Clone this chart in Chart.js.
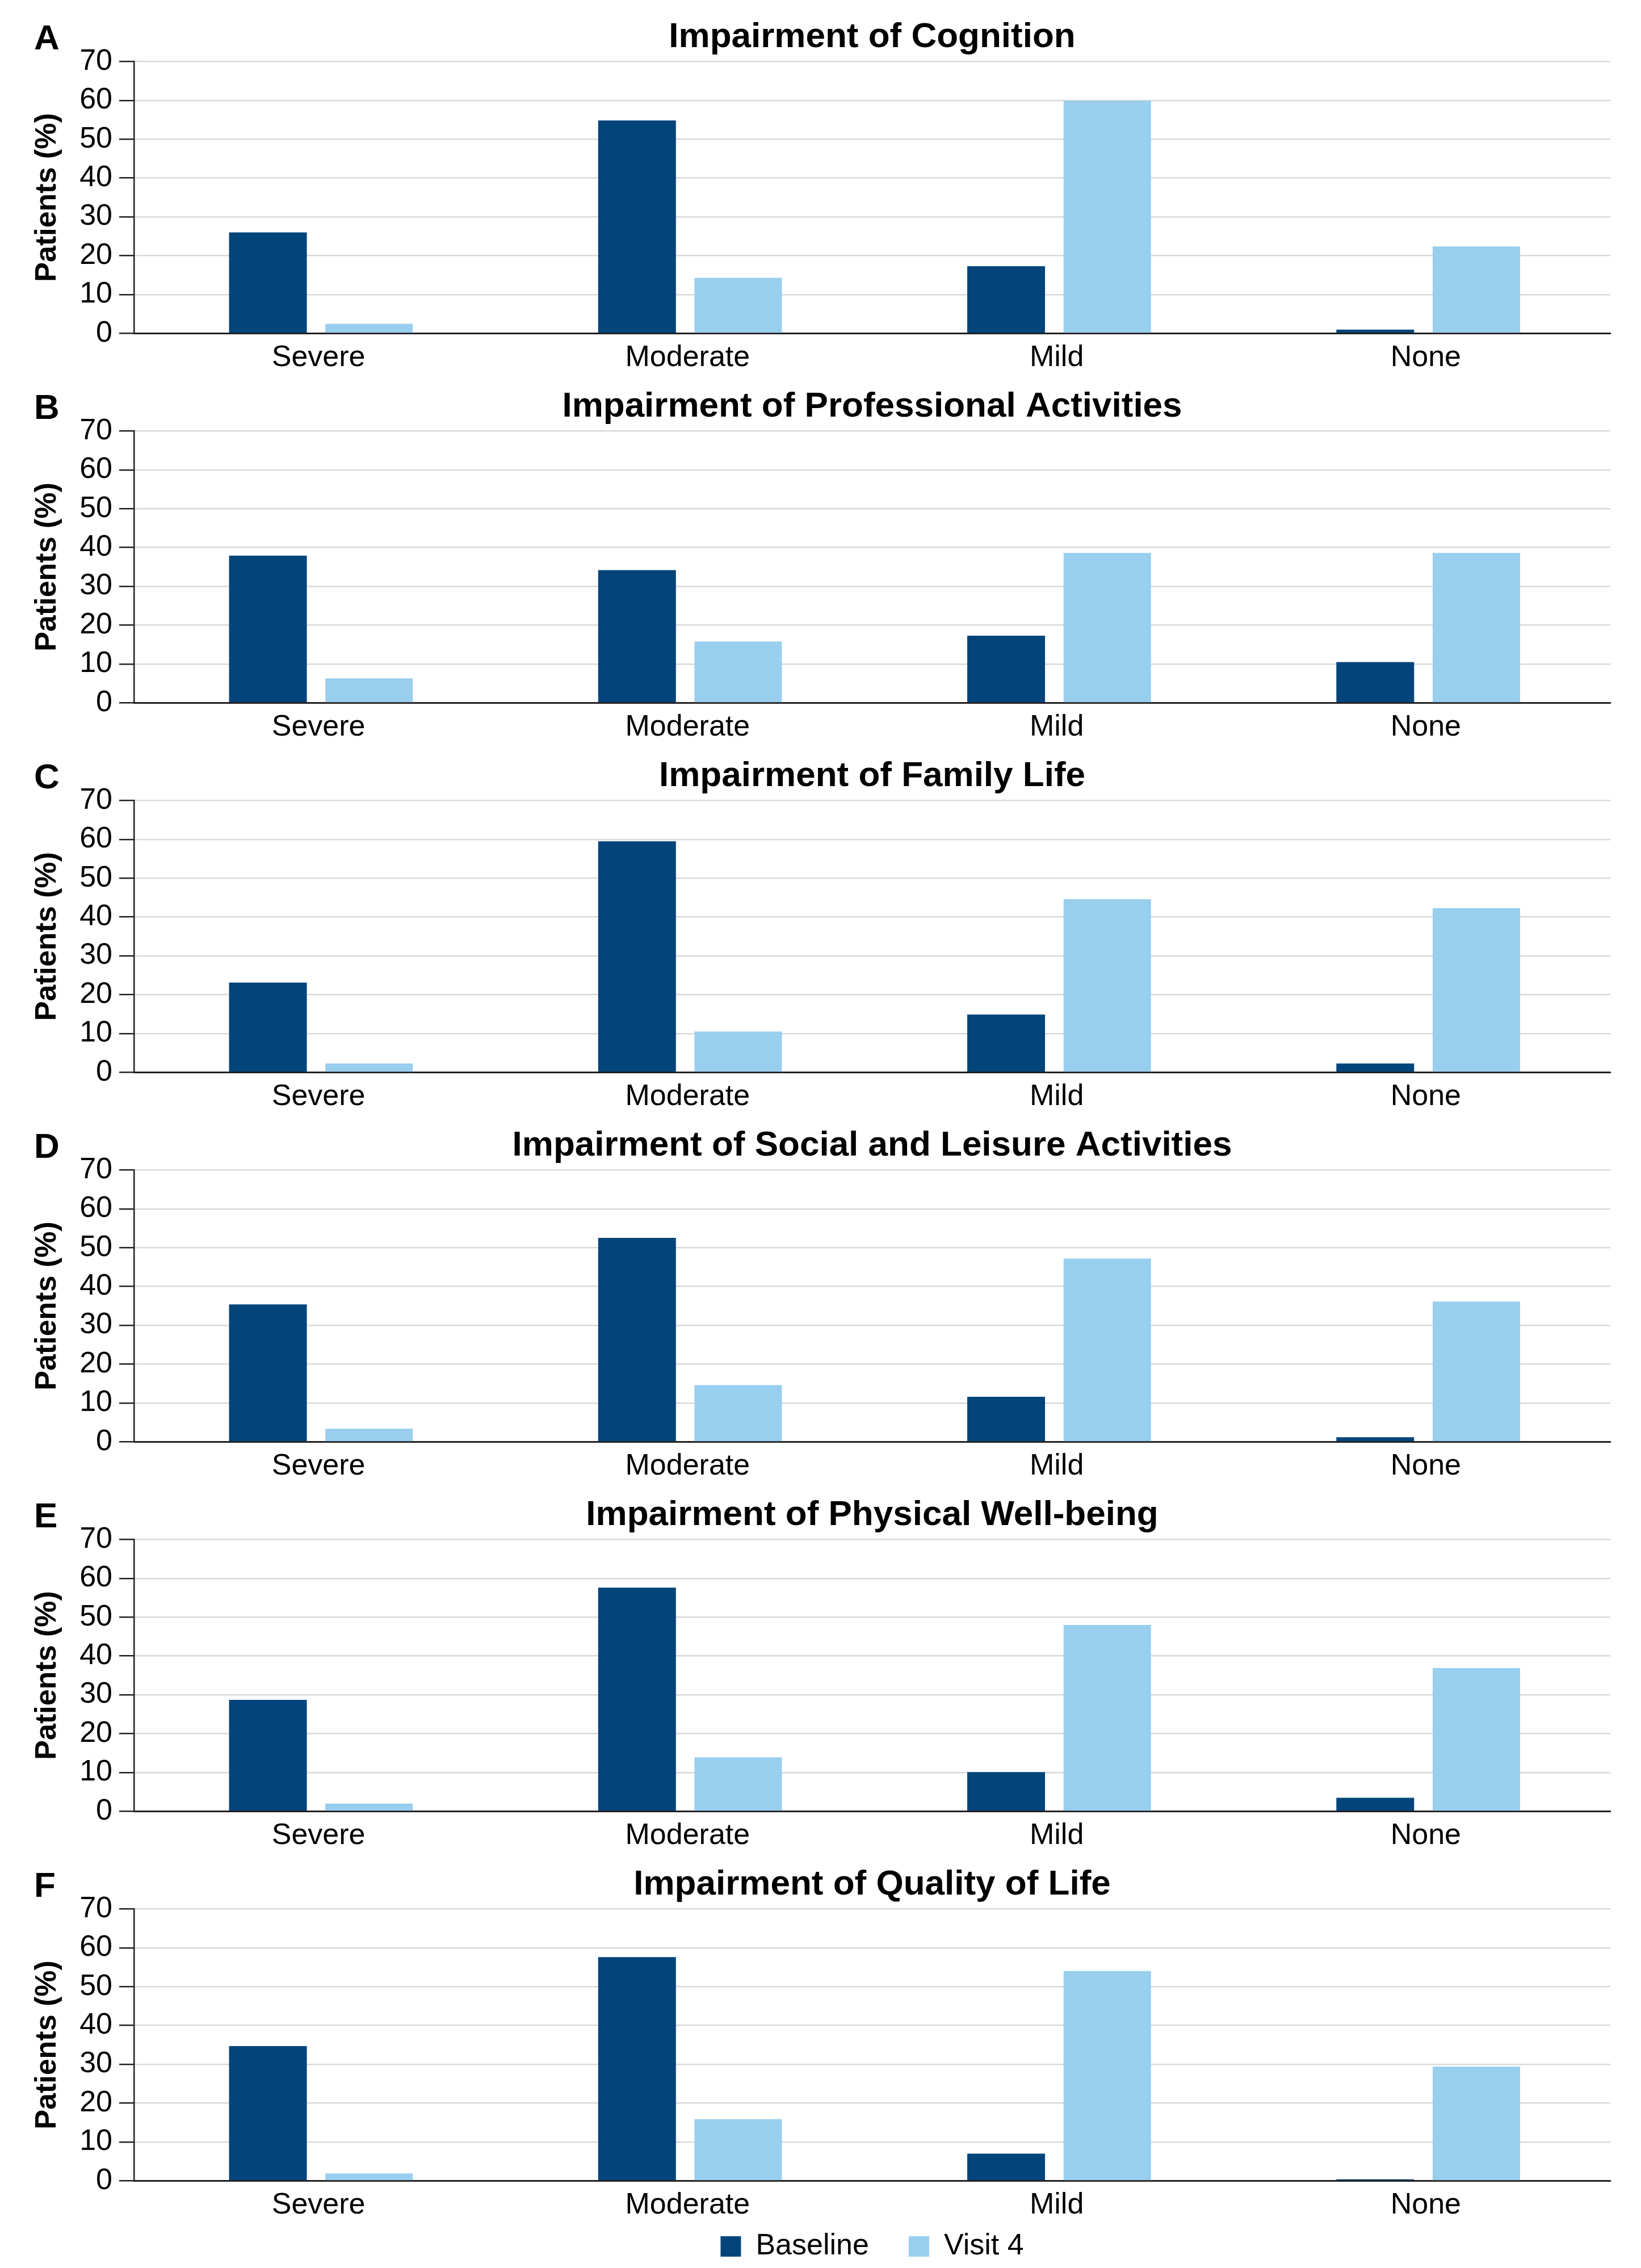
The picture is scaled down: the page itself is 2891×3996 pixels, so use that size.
<!DOCTYPE html>
<html>
<head>
<meta charset="utf-8">
<title>Impairment ratings at baseline and visit 4</title>
<script src="https://cdn.jsdelivr.net/npm/chart.js@4.4.1/dist/chart.umd.min.js"></script>
<style>
  html, body { margin: 0; padding: 0; background: #ffffff; }
  #wrap { position: relative; width: 2891px; height: 3996px; overflow: hidden; background: #ffffff; }
  #wrap canvas { position: absolute; left: 0; display: block; }
</style>
</head>
<body>
<div id="wrap"></div>
<script>
// ---- data -------------------------------------------------------------
const categories   = ['Severe', 'Moderate', 'Mild', 'None'];
const seriesNames  = ['Baseline', 'Visit 4'];
const panelLetters = ['A', 'B', 'C', 'D', 'E', 'F'];
const panelTitles  = [
  'Impairment of Cognition',
  'Impairment of Professional Activities',
  'Impairment of Family Life',
  'Impairment of Social and Leisure Activities',
  'Impairment of Physical Well-being',
  'Impairment of Quality of Life'
];
const yTickValues = [0, 10, 20, 30, 40, 50, 60, 70];
const yAxisLabel  = 'Patients (%)';

// percent of patients per impairment level
const cognitionBaseline     = [26.0, 54.8, 17.3, 1.0];
const cognitionVisit4       = [2.5, 14.3, 59.9, 22.4];
const professionalBaseline  = [37.9, 34.2, 17.3, 10.5];
const professionalVisit4    = [6.3, 15.8, 38.6, 38.6];
const familyBaseline        = [23.1, 59.5, 14.9, 2.3];
const familyVisit4          = [2.3, 10.5, 44.6, 42.3];
const socialBaseline        = [35.4, 52.5, 11.6, 1.2];
const socialVisit4          = [3.4, 14.6, 47.2, 36.1];
const physicalBaseline      = [28.7, 57.6, 10.1, 3.5];
const physicalVisit4        = [2.0, 13.9, 48.0, 36.9];
const qualityBaseline       = [34.7, 57.6, 7.0, 0.4];
const qualityVisit4         = [1.9, 15.9, 54.0, 29.4];

const baselineByPanel = [cognitionBaseline, professionalBaseline, familyBaseline,
                         socialBaseline, physicalBaseline, qualityBaseline];
const visit4ByPanel   = [cognitionVisit4, professionalVisit4, familyVisit4,
                         socialVisit4, physicalVisit4, qualityVisit4];

// ---- styling ------------------------------------------------------------
const FONT      = '"Liberation Sans", Arial, Helvetica, sans-serif';
const INK       = '#231f20';
const BASE_COL  = '#03457a';
const V4_COL    = '#98ceee';
const GRID_COL  = '#d9d9d9';
const PANEL_H   = 651;
const LAST_H    = 741;
const WIDTH     = 2891;

// bold panel letter in the top-left corner of each panel
const panelLetterPlugin = {
  id: 'panelLetter',
  afterDraw(chart, args, opts) {
    const ctx = chart.ctx;
    ctx.save();
    ctx.font = 'bold 62px ' + FONT;
    ctx.fillStyle = '#000000';
    ctx.textAlign = 'left';
    ctx.textBaseline = 'alphabetic';
    ctx.fillText(opts.text, 60, 87);
    ctx.restore();
  }
};

const wrap = document.getElementById('wrap');

panelTitles.forEach((title, i) => {
  const isLast = i === panelTitles.length - 1;
  const h = isLast ? LAST_H : PANEL_H;

  const canvas = document.createElement('canvas');
  canvas.width = WIDTH;
  canvas.height = h;
  canvas.style.width = WIDTH + 'px';
  canvas.style.height = h + 'px';
  canvas.style.top = (i * PANEL_H) + 'px';
  wrap.appendChild(canvas);

  new Chart(canvas, {
    type: 'bar',
    data: {
      labels: categories,
      datasets: [
        {
          label: seriesNames[0],
          data: baselineByPanel[i],
          backgroundColor: BASE_COL,
          borderWidth: 0,
          categoryPercentage: 0.548,
          barPercentage: 0.769
        },
        {
          label: seriesNames[1],
          data: visit4ByPanel[i],
          backgroundColor: V4_COL,
          borderWidth: 0,
          categoryPercentage: 0.548,
          barPercentage: 0.864
        }
      ]
    },
    options: {
      responsive: false,
      maintainAspectRatio: false,
      animation: false,
      devicePixelRatio: 1,
      events: [],
      layout: { padding: { left: 0, right: 54, top: 0, bottom: isLast ? 2 : 0 } },
      plugins: {
        title: {
          display: true,
          text: title,
          fullSize: false,
          color: '#000000',
          font: { family: FONT, size: 62, weight: 'bold', lineHeight: 1.2 },
          padding: { top: 28.3, bottom: 5.6 }
        },
        legend: {
          display: isLast,
          position: 'bottom',
          fullSize: false,
          labels: {
            color: '#000000',
            font: { family: FONT, size: 52 },
            boxWidth: 36,
            boxHeight: 36,
            padding: 70
          }
        },
        tooltip: { enabled: false },
        panelLetter: { text: panelLetters[i] }
      },
      scales: {
        x: {
          grid: { display: false, drawTicks: false },
          border: { display: true, color: INK, width: 3 },
          ticks: {
            color: '#000000',
            font: { family: FONT, size: 52, lineHeight: 1.2 },
            padding: 12,
            maxRotation: 0
          },
          afterFit(scale) {
            if (isLast) {
              // the legend sits close under this axis, so the box is kept short
              // and the category labels are allowed to draw past its edge
              scale.height = 19.5;
              scale._computeLabelArea = () => undefined;
            } else {
              scale.height = 63.5;
            }
          }
        },
        y: {
          min: yTickValues[0],
          max: yTickValues[yTickValues.length - 1],
          afterBuildTicks(scale) { scale.ticks = yTickValues.map(v => ({ value: v })); },
          grid: {
            color: GRID_COL,
            lineWidth: 2.5,
            drawTicks: true,
            tickLength: 26,
            tickColor: INK,
            tickWidth: 2.5
          },
          border: { display: true, color: INK, width: 2.5 },
          ticks: {
            color: '#000000',
            font: { family: FONT, size: 52, lineHeight: 1.2 },
            padding: 12
          },
          title: {
            display: true,
            text: yAxisLabel,
            color: '#000000',
            font: { family: FONT, size: 52, weight: 'bold', lineHeight: 1.2 },
            padding: { top: 52, bottom: 0 }
          },
          afterFit(scale) { scale.width = 236; }
        }
      }
    },
    plugins: [panelLetterPlugin]
  });
});
</script>
</body>
</html>
